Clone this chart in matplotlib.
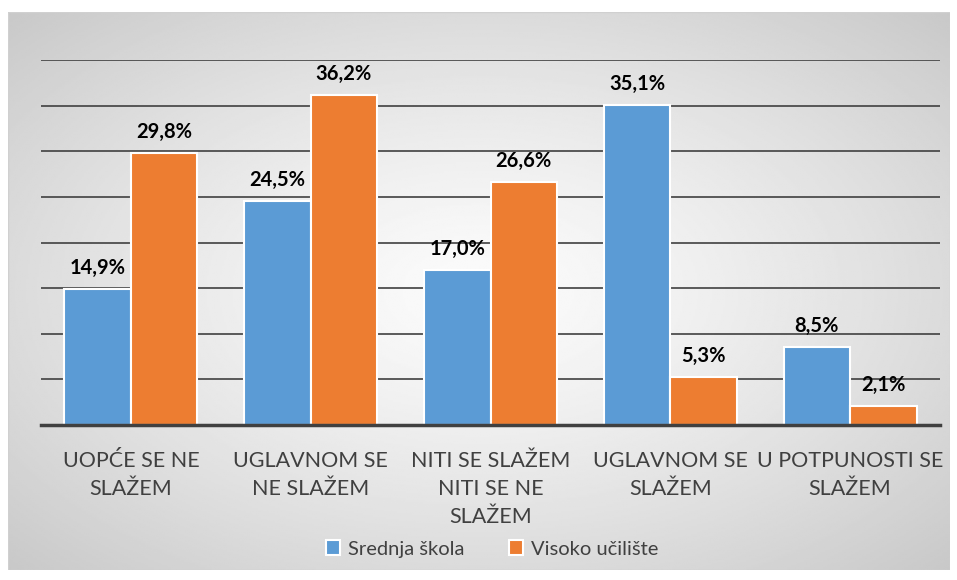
import numpy as np
import matplotlib.pyplot as plt
from matplotlib.patches import Rectangle

plt.rcParams['font.family'] = ['Lato', 'DejaVu Sans']

# data
categories = ["UOPĆE SE NE\nSLAŽEM", "UGLAVNOM SE\nNE SLAŽEM", "NITI SE SLAŽEM\nNITI SE NE\nSLAŽEM",
              "UGLAVNOM SE\nSLAŽEM", "U POTPUNOSTI SE\nSLAŽEM"]
srednja = [14.9, 24.5, 17.0, 35.1, 8.5]
visoko = [29.8, 36.2, 26.6, 5.3, 2.1]
series_names = ["Srednja škola", "Visoko učilište"]

blue = "#5b9bd5"
orange = "#ed7d31"

fig = plt.figure(figsize=(9.57, 5.8), dpi=100)

# chart-area background with radial gradient
bg = fig.add_axes([8 / 957, 1 - 570 / 580, 942 / 957, 558 / 580])
yy, xx = np.mgrid[-1:1:300j, -1:1:500j]
r = np.sqrt(xx ** 2 + yy ** 2) / np.sqrt(2)
img = 0.985 - 0.2 * r ** 1.3
bg.imshow(img, cmap='gray', vmin=0, vmax=1, aspect='auto', extent=[0, 1, 0, 1])
bg.add_patch(Rectangle((0, 0), 1, 1, fill=False, edgecolor='#d0d0d0', lw=1, transform=bg.transAxes))
bg.set_axis_off()

ax = fig.add_axes([41 / 957, 1 - 425 / 580, 899 / 957, 365 / 580])
ax.set_facecolor('none')
x = np.arange(len(categories))
w = 0.37
b1 = ax.bar(x - w / 2, srednja, w, color=blue, edgecolor='white', lw=1.5, label=series_names[0], zorder=3)
b2 = ax.bar(x + w / 2, visoko, w, color=orange, edgecolor='white', lw=1.5, label=series_names[1], zorder=3)

for bars, vals in ((b1, srednja), (b2, visoko)):
    for rect, v in zip(bars, vals):
        ax.annotate(f"{v:.1f}%".replace('.', ','), (rect.get_x() + rect.get_width() / 2, v),
                    xytext=(0, 8), textcoords='offset points', ha='center', va='bottom',
                    fontsize=14.5, fontweight='bold', color='black', zorder=4)

ax.set_xlim(-0.5, len(categories) - 0.5)
ax.set_ylim(0, 40)
ax.set_yticks(np.arange(0, 41, 5))
ax.yaxis.grid(True, color='#404040', lw=1.2, zorder=0)
ax.tick_params(axis='y', left=False, labelleft=False)
ax.tick_params(axis='x', length=0, pad=19, labelsize=15.5, labelcolor='#404040')
ax.set_xticks(x)
ax.set_xticklabels(categories, linespacing=1.5)
for s in ['top', 'right', 'left']:
    ax.spines[s].set_visible(False)
ax.spines['bottom'].set_color('#404040')
ax.spines['bottom'].set_linewidth(2.5)
ax.spines['bottom'].set_zorder(5)

leg = fig.legend(handles=[b1, b2], labels=series_names, loc='center', bbox_to_anchor=(492 / 957, 1 - 549 / 580),
                 ncol=2, frameon=False, fontsize=14.5, handlelength=0.7, handleheight=0.7,
                 handletextpad=0.4, columnspacing=2.2, labelcolor='#404040')

fig.savefig("out.png", dpi=100)
